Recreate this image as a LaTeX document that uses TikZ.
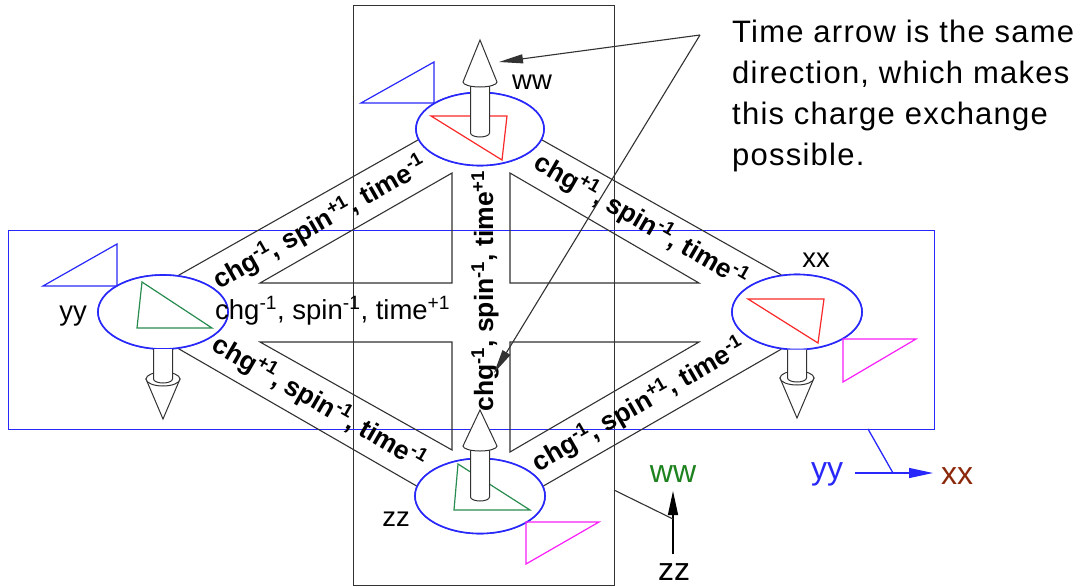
\documentclass[tikz,border=0pt]{standalone}
\usepackage{fontspec}
\setmainfont{Liberation Sans}
\newfontfamily\annfont[LetterSpace=4]{Liberation Sans}
\usetikzlibrary{shapes.geometric,arrows.meta}
\definecolor{eblue}{RGB}{40,40,250}
\definecolor{tred}{RGB}{250,40,40}
\definecolor{tgreen}{RGB}{40,140,80}
\definecolor{tmag}{RGB}{250,30,250}
\definecolor{lgreen}{RGB}{30,130,30}
\definecolor{lbrown}{RGB}{140,40,10}
\definecolor{dline}{RGB}{50,50,50}
\newcommand{\upArr}[4]{%
  \draw[arrbody] (#1-9.5,#3) -- (#1-9.5,#4) arc[start angle=180,end angle=360,x radius=9.5pt,y radius=4pt] -- (#1+9.5,#3);
  \draw[arrbody] (#1-17,#3) -- (#1,#2) -- (#1+17,#3) arc[start angle=0,end angle=-180,x radius=17pt,y radius=5pt] -- cycle;}
\newcommand{\downArr}[4]{%
  \draw[arrbody] (#1-17,#3) -- (#1,#4) -- (#1+17,#3) -- cycle;
  \draw[arrbody] (#1,#3) ellipse[x radius=17pt,y radius=7pt];
  \draw[arrbody] (#1-9.5,#2) -- (#1-9.5,#3) arc[start angle=180,end angle=360,x radius=9.5pt,y radius=4pt] -- (#1+9.5,#2);}
\begin{document}
\begin{tikzpicture}[x=1pt,y=-1pt,
  frame/.style={draw=dline,line width=1.1pt},
  bframe/.style={draw=eblue,line width=1.3pt},
  strip/.style={draw=dline,line width=1.1pt},
  ell/.style={ellipse,draw=eblue,line width=1.6pt,fill=white,inner sep=0pt},
  tri/.style={line width=1.2pt,line join=miter},
  arrbody/.style={draw=dline,line width=1pt,fill=white},
  lbl/.style={font=\fontsize{27.5}{32}\selectfont,inner sep=0pt},
  leglbl/.style={font=\fontsize{32}{36}\selectfont,inner sep=0pt},
  blbl/.style={font=\bfseries\fontsize{26.5}{30}\selectfont,inner sep=0pt},
  callout/.style={draw=dline,line width=1.1pt,-{Triangle[length=24pt,width=9pt]}},
  legarrow/.style={line width=1.3pt,-{Triangle[length=24pt,width=10pt]}}]
\useasboundingbox (0,0) rectangle (1090,587);
\fill[white] (0,0) rectangle (1090,587);

% frames
\node[frame,rectangle,inner sep=0pt,minimum width=261pt,minimum height=580pt,anchor=north west] (vrect) at (353,5) {};
\node[bframe,rectangle,inner sep=0pt,minimum width=926pt,minimum height=199pt,anchor=north west] (hrect) at (8,230) {};

% ellipses
\node[ell,minimum width=128pt,minimum height=73pt] (ww) at (480,129) {};
\node[ell,minimum width=130pt,minimum height=74pt] (yy) at (163,312) {};
\node[ell,minimum width=130pt,minimum height=75pt] (xx) at (797,312) {};
\node[ell,minimum width=130pt,minimum height=75pt] (zz) at (480,496) {};

% strips
\draw[strip] (yy.67) -- (ww.190);
\draw[strip] (ww.350) -- (xx.113);
\draw[strip] (yy.293) -- (zz.171);
\draw[strip] (zz.9) -- (xx.247);
\draw[strip] (260,283) -- (452,173) -- (452,283) -- cycle;
\draw[strip] (510,173) -- (510,283) -- (699,283) -- cycle;
\draw[strip] (260,342) -- (452,342) -- (452,450) -- cycle;
\draw[strip] (510,342) -- (699,342) -- (510,452) -- cycle;

% redraw ellipses on top of strip ends
\node[ell,minimum width=128pt,minimum height=73pt] at (480,129) {};
\node[ell,minimum width=130pt,minimum height=74pt] at (163,312) {};
\node[ell,minimum width=130pt,minimum height=75pt] at (797,312) {};
\node[ell,minimum width=130pt,minimum height=75pt] at (480,496) {};

% coloured triangles
\draw[tri,eblue] (361,103) -- (434,62) -- (434,103) -- cycle;
\draw[tri,tred] (431,116) -- (507,116) -- (502,160) -- cycle;
\draw[tri,eblue] (43,286) -- (117,244) -- (117,286) -- cycle;
\draw[tri,tgreen] (142,282) -- (137,328) -- (212,328) -- cycle;
\draw[tri,tred] (748,299) -- (824,299) -- (818,343) -- cycle;
\draw[tri,tmag] (843,339) -- (916,339) -- (843,382) -- cycle;
\draw[tri,tgreen] (458,464) -- (454,510) -- (530,510) -- cycle;
\draw[tri,tmag] (526,522) -- (599,522) -- (526,564) -- cycle;

% 3D arrows
\downArr{163}{349}{379}{419}
\downArr{797}{349.5}{378}{418}
\upArr{480}{40}{82}{133}
\upArr{480}{410}{446}{497}

% labels
\node[lbl] (lww) at (532,82) {ww};
\node[lbl] (lyy) at (73,316) {yy};
\node[lbl] (lxx) at (816,260) {xx};
\node[lbl] (lzz) at (396,519) {zz};

\node[blbl,rotate=29.7] (sUL) at (320,223) {chg\textsuperscript{-1}, spin\textsuperscript{+1}, time\textsuperscript{-1}};
\node[blbl,rotate=-30] (sUR) at (641,221) {chg\textsuperscript{+1}, spin\textsuperscript{-1}, time\textsuperscript{-1}};
\node[blbl,rotate=-30] (sLL) at (319,403) {chg\textsuperscript{+1}, spin\textsuperscript{-1}, time\textsuperscript{-1}};
\node[blbl,rotate=30] (sLR) at (639,405) {chg\textsuperscript{-1}, spin\textsuperscript{+1}, time\textsuperscript{-1}};
\node[blbl,rotate=90] (sV) at (485,291) {chg\textsuperscript{-1}, spin\textsuperscript{-1}, time\textsuperscript{+1}};
\node[lbl,anchor=base west] (sH) at (215,319) {chg\textsuperscript{-1}, spin\textsuperscript{-1}, time\textsuperscript{+1}};

% annotation
\node[inner sep=0pt,anchor=north west,align=left,font=\annfont\fontsize{31}{41}\selectfont] (note) at (732,20)
  {Time arrow is the same\\direction, which makes\\this charge exchange\\possible.};
\coordinate (cp) at (700,35);
\coordinate (wwtip) at (499,62);
\coordinate (zztip) at (494,373);
\draw[callout] (cp) -- (wwtip);
\draw[callout] (cp) -- (zztip);

% legend horizontal
\node[leglbl,text=eblue] (gyy) at (827,474) {yy};
\node[leglbl,text=lbrown] (gxx) at (957,476) {xx};
\coordinate (ha) at (855,473);
\coordinate (hb) at (933,473);
\coordinate (hrpt) at (868,429);
\coordinate (hbend) at (893,473);
\draw[legarrow,eblue] (ha) -- (hb);
\draw[eblue,line width=1.3pt] (hrpt) -- (hbend);

% legend vertical
\node[leglbl,text=lgreen] (gww) at (673,474) {ww};
\node[leglbl] (gzz) at (674,572) {zz};
\coordinate (va) at (673,554);
\coordinate (vb) at (673,491);
\coordinate (vrpt) at (614,490);
\coordinate (vbend) at (673,519);
\draw[legarrow,black] (va) -- (vb);
\draw[dline,line width=1.1pt] (vrpt) -- (vbend);
\end{tikzpicture}
\end{document}
